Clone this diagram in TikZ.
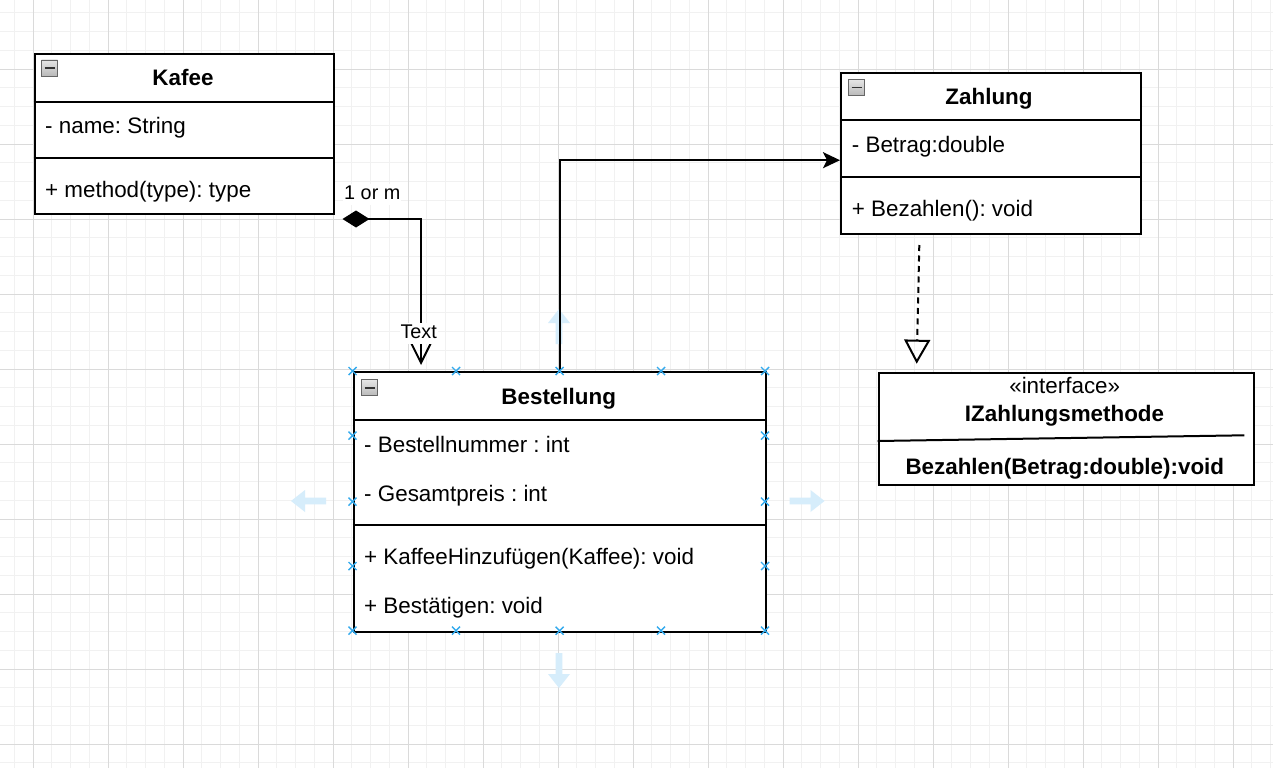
\documentclass[tikz,border=0pt]{standalone}
\usepackage{fontspec}
\setmainfont{Liberation Sans}
\usetikzlibrary{arrows.meta}
\frenchspacing
\definecolor{gridmajor}{HTML}{DADADA}
\definecolor{gridminor}{HTML}{F1F1F1}
\definecolor{selx}{HTML}{33AAEE}
\definecolor{hintblue}{HTML}{D6EDFB}
\newcommand{\fsz}{\fontsize{22.4}{26}\selectfont}
\newcommand{\lsz}{\fontsize{19.8}{23}\selectfont}
\tikzset{
  cls/.style={draw=black, line width=2pt, fill=white, inner sep=0pt, anchor=north west},
  divline/.style={draw=black, line width=2pt},
  txt/.style={inner sep=0pt, anchor=base west, font=\fsz},
  ttl/.style={inner sep=0pt, anchor=base, font=\fsz\bfseries},
  stereo/.style={inner sep=0pt, anchor=base, font=\fsz},
  lbl/.style={font=\lsz, anchor=base, fill=white, inner sep=1pt, text height=14.5pt, text depth=5pt},
  conn/.style={draw=black, line width=2pt},
  collapseicon/.style={draw=gray!80!black, line width=0.8pt, top color=gray!20, bottom color=gray!55,
    minimum size=16pt, inner sep=0pt,
    path picture={\draw[line width=1.6pt, black!80] ([xshift=3pt]path picture bounding box.west) -- ([xshift=-3pt]path picture bounding box.east);}},
  selmark/.style={draw=selx, line width=1.4pt},
  hintarrow/.style={fill=hintblue}
}
\begin{document}
\frenchspacing
\begin{tikzpicture}[x=1pt,y=-1pt]
\useasboundingbox (0,0) rectangle (1273,768);
\clip (0,0) rectangle (1273,768);
\fill[white] (0,0) rectangle (1273,768);
% grid
\foreach \i in {-1,...,67} \draw[gridminor, line width=1pt] ({33+18.75*\i},0) -- ({33+18.75*\i},768);
\foreach \i in {-4,...,37} \draw[gridminor, line width=1pt] (0,{69+18.75*\i}) -- (1273,{69+18.75*\i});
\foreach \i in {0,...,16} \draw[gridmajor, line width=1pt] ({33+75*\i},0) -- ({33+75*\i},768);
\foreach \i in {-1,...,9} \draw[gridmajor, line width=1pt] (0,{69+75*\i}) -- (1273,{69+75*\i});

% hint arrows round the selected class
\foreach \tx/\ty/\rot in {291/501/0, 824.5/501/180, 559/309/-90, 559/688/90}
  \fill[hintarrow, shift={(\tx,\ty)}, rotate=\rot] (0,0) -- (14,11) -- (14,3.3) -- (35,3.3) -- (35,-3.3) -- (14,-3.3) -- (14,-11) -- cycle;

% Kafee
\node[cls, minimum width=299.3pt, minimum height=160.3pt] (kafee) at (33.7,52.7) {};
\draw[divline] ([yshift=-49pt]kafee.north west) -- ([yshift=-49pt]kafee.north east);
\draw[divline] ([yshift=-105pt]kafee.north west) -- ([yshift=-105pt]kafee.north east);
\node[collapseicon] (kafeeicon) at (49.5,68) {};
\node[ttl] (kafeetitle) at (183,85) {Kafee};
\node[txt] (kafeeattr) at (45,133.3) {- name: String};
\node[txt] (kafeeop) at (45,197.3) {+ method(type): type};

% Zahlung
\node[cls, minimum width=300pt, minimum height=161pt] (zahl) at (840,71.7) {};
\draw[divline] ([yshift=-48.3pt]zahl.north west) -- ([yshift=-48.3pt]zahl.north east);
\draw[divline] ([yshift=-105pt]zahl.north west) -- ([yshift=-105pt]zahl.north east);
\node[collapseicon] (zahlicon) at (856.5,87.5) {};
\node[ttl] (zahltitle) at (989,104) {Zahlung};
\node[txt] (zahlattr) at (851.7,152.7) {- Betrag:double};
\node[txt] (zahlop) at (851.7,216.7) {+ Bezahlen(): void};

% Bestellung
\node[cls, minimum width=412.5pt, minimum height=259.5pt] (best) at (352.5,371) {};
\draw[divline] ([yshift=-49pt]best.north west) -- ([yshift=-49pt]best.north east);
\draw[divline] ([yshift=-154.3pt]best.north west) -- ([yshift=-154.3pt]best.north east);
\node[collapseicon] (besticon) at (369.5,387.7) {};
\node[ttl] (besttitle) at (558.7,404) {Bestellung};
\node[txt] (bestattra) at (364,452.9) {- Bestellnummer : int};
\node[txt] (bestattrb) at (364,501.9) {- Gesamtpreis : int};
\node[txt] (bestopa) at (364,564.5) {+ KaffeeHinzufügen(Kaffee): void};
\node[txt] (bestopb) at (364,613.2) {+ Bestätigen: void};

% Interface
\node[cls, minimum width=375pt, minimum height=112.3pt] (iface) at (877.7,371.7) {};
\node[stereo] (ifacestereo) at (1064.7,393.3) {«interface»};
\node[ttl] (ifacetitle) at (1064.5,421.7) {IZahlungsmethode};
\draw[divline] ([yshift=-69.3pt]iface.north west) -- ([xshift=-10.4pt,yshift=-63.6pt]iface.north east);
\node[ttl] (ifaceop) at (1064.8,474.3) {Bezahlen(Betrag:double):void};

% connectors
\draw[conn, {Diamond[length=27pt,width=17pt]}-{Straight Barb[length=19pt,width=19pt]}]
  ([xshift=7.5pt,yshift=-4pt]kafee.south east) -| ([xshift=68.5pt,yshift=6pt]best.north west);
\node[lbl] (multlabel) at (372.3,199.3) {1 or m};
\node[lbl] (rolelabel) at (418.7,338) {Text};

\draw[conn, -{Stealth[length=17pt,width=16pt,inset=4pt]}] (best.north) |- ([yshift=-7pt]zahl.west);

\draw[conn, dash pattern=on 6pt off 4.5pt, -{Triangle[open,length=24pt,width=26pt]}]
  ([xshift=-71.7pt,yshift=-10.3pt]zahl.south) -- ([xshift=39pt,yshift=8pt]iface.north west);

% selection marks
\foreach \mx/\my in {352.5/371, 456/371, 559.6/371, 661/371, 765/371,
                     352.5/630.7, 456/630.7, 559.6/630.7, 661/630.7, 765/630.7,
                     352.5/435.7, 352.5/501.7, 352.5/566,
                     765/435.7, 765/501.7, 765/566}
  \draw[selmark] (\mx,\my) +(-4,-4) -- +(4,4) +(-4,4) -- +(4,-4);
\end{tikzpicture}
\end{document}
